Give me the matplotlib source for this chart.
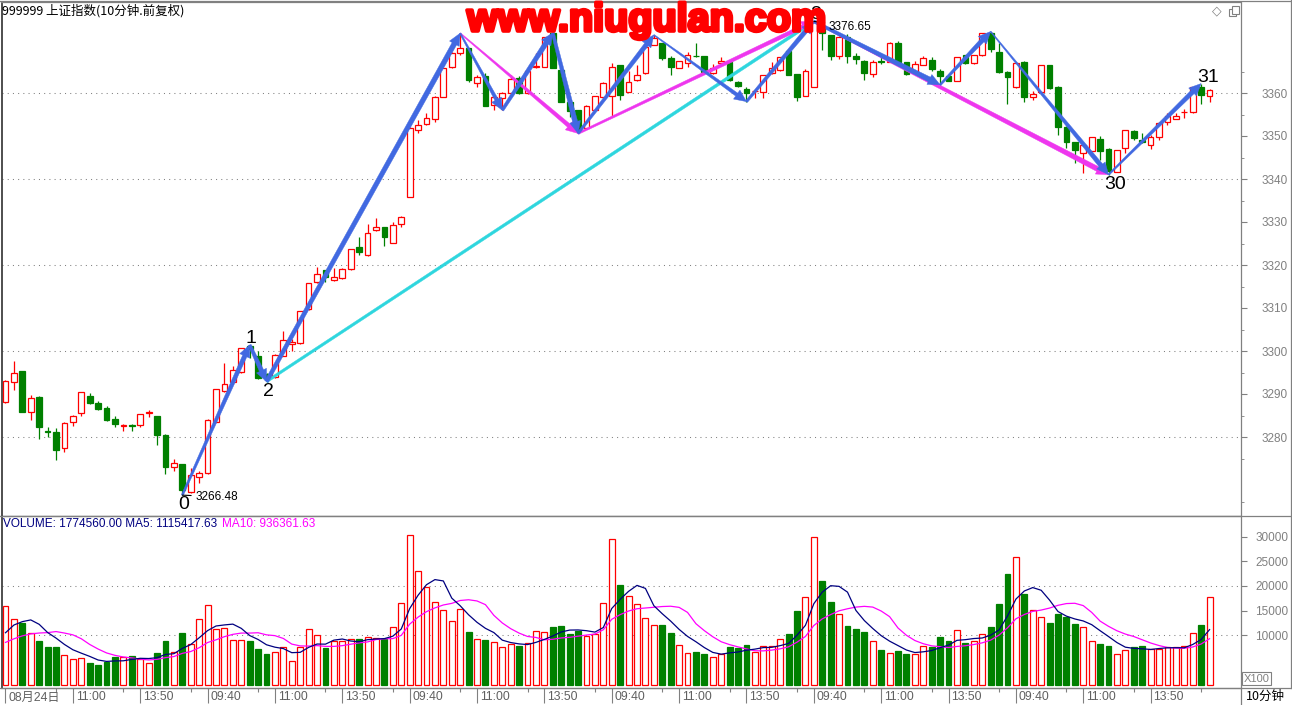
import numpy as np
import pandas as pd
import matplotlib
matplotlib.use("Agg")
import matplotlib.pyplot as plt
import matplotlib.transforms as mtransforms
import matplotlib.patheffects as pe
from matplotlib.patches import Polygon, Rectangle
from matplotlib.lines import Line2D

# ---------------- data (10-minute bars, 6 sessions x 24 bars) ----------------
open_ = [3288.1, 3292.7, 3295.3, 3285.7, 3289.4, 3281.3, 3281.1, 3277.4, 3283.4, 3285.5,
         3289.5, 3288.0, 3286.8, 3284.2, 3282.6, 3282.7, 3282.8, 3285.5, 3284.9, 3280.5,
         3273.1, 3273.7, 3267.3, 3270.8, 3271.6, 3283.6, 3290.8, 3292.9, 3295.2, 3301.2,
         3298.8, 3294.6, 3293.9, 3298.9, 3301.6, 3301.8, 3309.8, 3316.1, 3318.8, 3316.4,
         3316.9, 3319.0, 3324.2, 3322.3, 3328.1, 3328.8, 3325.2, 3329.5, 3335.9, 3351.4,
         3352.8, 3354.0, 3359.1, 3366.0, 3369.4, 3370.4, 3362.3, 3364.0, 3357.2, 3358.9,
         3360.1, 3363.4, 3359.9, 3366.0, 3366.1, 3373.9, 3365.3, 3358.0, 3356.0, 3351.8,
         3356.0, 3359.0, 3359.2, 3366.5, 3360.3, 3363.0, 3364.6, 3371.2, 3371.6, 3368.2,
         3365.8, 3366.9, 3368.7, 3368.5, 3364.6, 3366.9, 3367.1, 3362.6, 3360.9, 3360.4,
         3360.3, 3364.6, 3365.3, 3369.8, 3364.4, 3359.3, 3361.5, 3374.8, 3373.5, 3368.6,
         3373.1, 3368.6, 3367.5, 3364.4, 3367.4, 3367.3, 3371.7, 3367.1, 3364.6, 3366.5,
         3367.7, 3365.2, 3364.0, 3362.9, 3368.8, 3366.9, 3368.8, 3373.9, 3369.6, 3365.0,
         3361.3, 3367.3, 3359.1, 3360.3, 3366.5, 3361.5, 3352.2, 3348.5, 3346.1, 3346.6,
         3349.3, 3347.0, 3341.7, 3347.1, 3351.2, 3349.1, 3347.9, 3349.7, 3353.3, 3354.0,
         3355.5, 3355.5, 3361.5, 3359.3]
high = [3293.2, 3297.7, 3295.4, 3289.8, 3289.6, 3282.3, 3282.1, 3283.4, 3285.2, 3290.5,
        3290.3, 3288.4, 3287.2, 3285.0, 3283.0, 3283.0, 3285.3, 3286.3, 3285.0, 3280.6,
        3274.9, 3273.8, 3272.7, 3272.0, 3284.2, 3291.2, 3297.2, 3296.4, 3300.7, 3301.4,
        3300.0, 3294.8, 3299.2, 3304.7, 3302.8, 3309.4, 3315.8, 3319.6, 3318.9, 3319.4,
        3319.4, 3323.8, 3326.6, 3329.5, 3330.9, 3328.9, 3330.1, 3331.3, 3352.0, 3353.7,
        3355.4, 3359.4, 3365.8, 3369.5, 3373.9, 3370.5, 3364.2, 3364.7, 3359.1, 3360.3,
        3364.2, 3364.0, 3365.3, 3369.3, 3373.1, 3374.0, 3365.8, 3358.1, 3356.1, 3357.1,
        3359.3, 3362.5, 3366.9, 3366.6, 3365.2, 3366.5, 3371.6, 3373.5, 3371.7, 3368.5,
        3367.5, 3369.6, 3371.6, 3368.6, 3366.7, 3368.3, 3367.2, 3362.7, 3361.3, 3360.7,
        3364.3, 3367.3, 3368.4, 3369.9, 3364.5, 3365.5, 3376.65, 3375.1, 3373.6, 3373.2,
        3373.7, 3369.2, 3367.6, 3367.7, 3368.4, 3371.8, 3372.2, 3367.2, 3367.5, 3368.6,
        3368.3, 3365.5, 3364.4, 3368.4, 3368.9, 3368.9, 3374.0, 3374.3, 3371.6, 3365.1,
        3367.0, 3367.4, 3360.5, 3366.6, 3366.6, 3361.6, 3352.3, 3348.7, 3348.7, 3349.8,
        3350.0, 3347.1, 3346.8, 3351.5, 3351.3, 3350.6, 3350.2, 3353.3, 3355.3, 3355.4,
        3356.2, 3361.5, 3362.2, 3360.9]
low = [3288.0, 3290.9, 3285.8, 3284.0, 3279.5, 3280.1, 3274.7, 3276.4, 3282.6, 3285.0,
       3287.7, 3286.3, 3283.7, 3282.4, 3281.3, 3281.3, 3282.4, 3284.7, 3278.1, 3271.4,
       3272.2, 3266.48, 3267.0, 3269.2, 3271.5, 3283.5, 3290.5, 3292.7, 3294.9, 3298.4,
       3293.6, 3292.9, 3293.8, 3298.8, 3300.0, 3301.6, 3309.6, 3315.7, 3316.1, 3316.3,
       3316.7, 3318.9, 3322.3, 3322.1, 3327.8, 3324.4, 3325.1, 3328.8, 3335.8, 3350.8,
       3352.6, 3353.3, 3359.0, 3365.9, 3368.8, 3362.6, 3361.3, 3356.9, 3356.0, 3356.0,
       3360.0, 3359.8, 3359.8, 3365.8, 3366.0, 3365.7, 3357.9, 3354.5, 3350.6, 3351.7,
       3355.9, 3358.9, 3354.5, 3358.4, 3360.2, 3362.9, 3364.5, 3371.1, 3367.7, 3364.2,
       3365.7, 3366.0, 3368.3, 3364.9, 3364.5, 3366.5, 3362.9, 3361.5, 3358.0, 3358.8,
       3358.8, 3364.5, 3365.2, 3364.1, 3358.2, 3359.2, 3361.4, 3370.0, 3367.7, 3367.8,
       3366.9, 3366.7, 3363.0, 3363.8, 3366.7, 3367.2, 3367.2, 3364.3, 3364.5, 3366.4,
       3365.2, 3361.9, 3362.8, 3362.8, 3366.8, 3366.8, 3368.7, 3369.6, 3364.6, 3357.4,
       3361.2, 3358.0, 3358.4, 3360.2, 3361.0, 3350.2, 3347.1, 3343.8, 3341.3, 3346.5,
       3344.4, 3341.0, 3341.6, 3346.0, 3349.1, 3348.4, 3346.9, 3349.1, 3352.6, 3353.9,
       3354.3, 3355.4, 3357.4, 3358.0]
close = [3293.0, 3295.0, 3285.9, 3289.0, 3282.4, 3281.2, 3277.0, 3283.2, 3284.9, 3290.4,
         3288.0, 3286.6, 3284.0, 3283.0, 3282.8, 3282.5, 3285.3, 3285.8, 3280.5, 3273.1,
         3274.0, 3267.7, 3271.2, 3271.7, 3284.0, 3291.1, 3292.3, 3295.6, 3300.6, 3300.5,
         3293.8, 3293.7, 3299.1, 3302.5, 3302.0, 3309.3, 3315.7, 3317.8, 3317.1, 3317.1,
         3319.1, 3323.7, 3323.0, 3327.4, 3328.8, 3326.4, 3329.2, 3331.2, 3351.8, 3352.6,
         3354.1, 3359.0, 3365.7, 3369.3, 3370.4, 3363.0, 3363.7, 3357.0, 3359.0, 3359.9,
         3363.2, 3359.9, 3365.2, 3366.2, 3373.0, 3365.8, 3358.0, 3355.8, 3351.4, 3357.0,
         3359.2, 3362.4, 3366.1, 3359.5, 3362.6, 3364.2, 3370.8, 3372.7, 3368.1, 3366.1,
         3367.4, 3368.8, 3368.5, 3365.0, 3365.9, 3367.4, 3363.0, 3361.6, 3360.1, 3360.5,
         3364.2, 3365.8, 3368.3, 3364.2, 3359.1, 3365.2, 3376.6, 3373.9, 3368.6, 3373.1,
         3368.5, 3367.8, 3364.7, 3367.2, 3367.3, 3371.6, 3367.3, 3364.4, 3366.7, 3368.1,
         3365.5, 3364.0, 3362.9, 3368.3, 3366.9, 3368.8, 3373.9, 3370.2, 3365.0, 3363.7,
         3366.9, 3359.1, 3359.8, 3366.5, 3361.1, 3352.2, 3348.5, 3346.7, 3347.8, 3349.7,
         3346.6, 3341.9, 3346.7, 3351.4, 3349.6, 3348.5, 3349.7, 3353.0, 3354.7, 3354.7,
         3355.6, 3361.3, 3359.5, 3360.7]
# volume in units of 100 (axis shows X100)
volume = [15990, 13330, 12440, 10540, 8840, 7680, 7680, 5980, 5170, 5370,
          4420, 4010, 4560, 5640, 5510, 5850, 5100, 4350, 6460, 8840,
          6600, 10470, 8230, 13330, 16120, 11290, 11560, 9040, 9040, 8840,
          7280, 6190, 6600, 7620, 4690, 7620, 11220, 10000, 7480, 8770,
          8770, 9180, 9250, 9590, 9450, 9180, 11630, 16520, 30260, 23050,
          19860, 16800, 15160, 12850, 15300, 10680, 9180, 9040, 8570, 7620,
          8230, 7820, 8360, 10810, 10610, 11700, 11900, 10270, 10950, 9860,
          10270, 16520, 29580, 20260, 17950, 16320, 13460, 12040, 12100, 10470,
          7960, 6320, 6600, 6190, 5580, 6190, 7620, 7480, 8020, 6660,
          7750, 7890, 9180, 10270, 14960, 17750, 29850, 20950, 16800, 14280,
          11900, 11290, 10680, 8770, 7000, 6320, 6800, 6190, 6190, 7750,
          7620, 9660, 8840, 11020, 8430, 8770, 10200, 11700, 16390, 22510,
          25910, 18430, 15160, 13670, 12510, 14350, 13740, 12310, 11630, 8770,
          8230, 7820, 6190, 6940, 7550, 7820, 7140, 7140, 7680, 7650,
          7750, 10450, 12175, 17746]
# volumes of the 9 bars before the window (estimated from the MA lines at the left edge)
prior_volume = [6000, 6500, 6600, 7000, 6900, 5500, 9000, 8800, 13300]

session_labels = ["08月24日", "09:40", "09:40", "09:40", "09:40", "09:40"]
intraday_labels = ["11:00", "13:50"]
bars_per_day = 24
intraday_pos = [8, 16]
minor_pos = [6, 14, 22]

# zig-zag pivots: (bar index, 'H' or 'L')
blue_legs = [(21, 'L', 29, 'H'), (29, 'H', 31, 'L'), (31, 'L', 54, 'H'), (54, 'H', 59, 'L'),
             (59, 'L', 65, 'H'), (65, 'H', 68, 'L'), (68, 'L', 77, 'H'), (77, 'H', 88, 'L'),
             (88, 'L', 96, 'H'), (96, 'H', 111, 'L'), (111, 'L', 117, 'H'), (117, 'H', 131, 'L'),
             (131, 'L', 142, 'H')]
blue_widths = [(2, 4.5), (3, 4.5), (4, 5), (1.5, 3.5), (3, 5), (3, 5), (2.5, 4.5), (1, 3.5),
               (2.5, 4.5), (3, 5), (2, 4.5), (1, 4.5), (1.5, 4.5)]
pink_legs = [(54, 'H', 68, 'L'), (68, 'L', 96, 'H'), (96, 'H', 131, 'L')]
pink_widths = [(1, 4), (2, 4), (2, 5)]
cyan_leg = (31, 'L', 96, 'H')
pivot_labels = [(21, 'L', "0"), (29, 'H', "1"), (31, 'L', "2"), (96, 'H', "3"),
                (131, 'L', "30"), (142, 'H', "31")]

# ---------------- figure ----------------
W, H = 1292, 705
fig = plt.figure(figsize=(W / 100, H / 100), dpi=100)
fig.patch.set_facecolor("white")


def fx(px):
    return px / W


def fy(py):
    return 1 - py / H


GRAY = "#808080"
RED = "#FF0000"
GREEN = "#008000"
BLUE = "#4169E1"
PINK = "#EE36EE"
CYAN = "#2ED6DE"
LAT = "Liberation Sans"
CJK = ["Noto Sans CJK SC", "DejaVu Sans"]

ax = fig.add_axes([fx(1.5), fy(516), (1240.5 - 1.5) / W, (516 - 2) / H])
axv = fig.add_axes([fx(1.5), fy(688), (1240.5 - 1.5) / W, (688 - 516) / H])

o = np.array(open_)
h = np.array(high)
l = np.array(low)
c = np.array(close)
v = np.array(volume, dtype=float)
n = len(o)
idx = np.arange(n)
up = c >= o

x0 = (1.5 - 5.5) / 8.42
x1 = (1240.5 - 5.5) / 8.42
ax.set_xlim(x0, x1)
ax.set_ylim(3360 - (516 - 93) / 4.3, 3360 + (93 - 2) / 4.3)
axv.set_xlim(x0, x1)
axv.set_ylim(-(688 - 684.6) / 49.3 * 10000, (684.6 - 516) / 49.3 * 10000)

for a in (ax, axv):
    a.set_facecolor("white")
    for s in a.spines.values():
        s.set_color(GRAY)
        s.set_linewidth(0.9)
    a.spines["left"].set_color("#404040")
    a.spines["left"].set_linewidth(1.3)

# grid
for g in range(3280, 3361, 20):
    ax.axhline(g, color=GRAY, lw=0.75, ls=(0, (1, 4)), zorder=1)
for g in (10000, 20000):
    axv.axhline(g, color=GRAY, lw=0.75, ls=(0, (1, 4)), zorder=1)

# candles
bw = 0.68
lo_b = np.minimum(o, c)
hi_b = np.maximum(o, c)
hgt = np.maximum(hi_b - lo_b, 0.03)
col = np.where(up, RED, GREEN)
ax.vlines(idx, hi_b, h, colors=col, lw=0.9, zorder=2)
ax.vlines(idx, l, lo_b, colors=col, lw=0.9, zorder=2)
ax.bar(idx[up], hgt[up], bottom=lo_b[up], width=bw, facecolor="white",
       edgecolor=RED, lw=0.9, zorder=3)
ax.bar(idx[~up], hgt[~up], bottom=lo_b[~up], width=bw, facecolor=GREEN,
       edgecolor=GREEN, lw=0.9, zorder=3)

# volume
axv.bar(idx[up], v[up], width=0.7, facecolor="white", edgecolor=RED, lw=0.9, zorder=3)
axv.bar(idx[~up], v[~up], width=0.7, facecolor=GREEN, edgecolor=GREEN, lw=0.9, zorder=3)
full = pd.Series(list(prior_volume) + list(volume), dtype=float)
ma5 = full.rolling(5).mean().to_numpy()[len(prior_volume):]
ma10 = full.rolling(10).mean().to_numpy()[len(prior_volume):]
axv.plot(idx, ma10, color="#FF00FF", lw=0.9, zorder=4)
axv.plot(idx, ma5, color="#000080", lw=0.9, zorder=5)

# right axes ticks
ax.yaxis.tick_right()
ax.set_yticks(range(3280, 3361, 10))
ax.set_yticks([t + 5 for t in range(3260, 3361, 10)], minor=True)
ax.tick_params(axis="y", which="major", length=4.3, color=GRAY, labelcolor=GRAY,
               labelsize=8.5, pad=30.0)
ax.tick_params(axis="y", which="minor", length=2.2, color=GRAY)
for t in ax.get_yticklabels():
    t.set_horizontalalignment("right")
    t.set_fontfamily(LAT)
ax.set_xticks([])

axv.yaxis.tick_right()
axv.set_yticks([10000, 15000, 20000, 25000, 30000])
axv.tick_params(axis="y", which="major", length=4.3, color=GRAY, labelcolor=GRAY,
                labelsize=8.5, pad=30.0)
for t in axv.get_yticklabels():
    t.set_horizontalalignment("right")
    t.set_fontfamily(LAT)

# x axis strip
major_x, major_lab = [], []
for d in range(len(session_labels)):
    major_x.append(d * bars_per_day)
    major_lab.append(session_labels[d])
    for p, lab in zip(intraday_pos, intraday_labels):
        major_x.append(d * bars_per_day + p)
        major_lab.append(lab)
minor_x = [d * bars_per_day + p for d in range(len(session_labels)) for p in minor_pos]
axv.set_xticks(major_x)
axv.set_xticklabels([])
axv.set_xticks(minor_x, minor=True)
axv.tick_params(axis="x", which="major", length=11, color=GRAY, width=0.8)
axv.tick_params(axis="x", which="minor", length=3, color=GRAY, width=0.8)
lab_tr = mtransforms.blended_transform_factory(axv.transData, axv.transAxes) + \
    mtransforms.ScaledTranslation(3 / 100, -9.5 / 100, fig.dpi_scale_trans)
for xm, lab in zip(major_x, major_lab):
    axv.text(xm, 0, lab, transform=lab_tr, ha="left", va="center", fontsize=8.8,
             color="#606060", family=[LAT, "Noto Sans CJK SC"], clip_on=False)


# tapered arrows
def price_of(i, kind):
    return h[i] if kind == "H" else l[i]


def taper(axis, p0, p1, color, w0, w1, hw=11, hl=12, z=6):
    T = axis.transData
    a = np.array(T.transform(p0))
    b = np.array(T.transform(p1))
    d = b - a
    L = np.hypot(*d)
    u = d / L
    nn = np.array([-u[1], u[0]])
    if hl > 0:
        base = b - u * hl
        pts = [a + nn * w0 / 2, base + nn * w1 / 2, base + nn * hw / 2, b,
               base - nn * hw / 2, base - nn * w1 / 2, a - nn * w0 / 2]
    else:
        pts = [a + nn * w0 / 2, b + nn * w1 / 2, b - nn * w1 / 2, a - nn * w0 / 2]
    dp = T.inverted().transform(np.array(pts))
    axis.add_patch(Polygon(dp, closed=True, facecolor=color, edgecolor=color, lw=0.3,
                           zorder=z, clip_on=False))


i0, k0, i1, k1 = cyan_leg
taper(ax, (i0, price_of(i0, k0)), (i1, price_of(i1, k1)), CYAN, 2.6, 3.0, hl=0, z=5)
for (i0, k0, i1, k1), (w0, w1) in zip(pink_legs, pink_widths):
    taper(ax, (i0, price_of(i0, k0)), (i1, price_of(i1, k1)), PINK, w0, w1, z=6)
for (i0, k0, i1, k1), (w0, w1) in zip(blue_legs, blue_widths):
    taper(ax, (i0, price_of(i0, k0)), (i1, price_of(i1, k1)), BLUE, w0, w1, z=7)

# pivot labels
for i, k, lab in pivot_labels:
    if k == "H":
        ax.annotate(lab, xy=(i, h[i]), xytext=(-4, 2), textcoords="offset pixels",
                    ha="left", va="baseline", fontsize=14, family=LAT, color="black",
                    zorder=8, annotation_clip=False)
    else:
        ax.annotate(lab, xy=(i, l[i]), xytext=(-4, -1), textcoords="offset pixels",
                    ha="left", va="top", fontsize=14, family=LAT, color="black",
                    zorder=8, annotation_clip=False)

# extreme value labels
i_lo = int(np.argmin(l))
i_hi = int(np.argmax(h))
ax.annotate(f"{l[i_lo]:.2f}", xy=(i_lo, l[i_lo]), xytext=(13, -2), textcoords="offset pixels",
            ha="left", va="center", fontsize=8.5, family=LAT, color="black", zorder=8,
            arrowprops=dict(arrowstyle="-", color="black", lw=0.8, shrinkA=1, shrinkB=0,
                            relpos=(0, 0.62)))
ax.annotate(f"{h[i_hi]:.2f}", xy=(i_hi, h[i_hi]), xytext=(15, 0), textcoords="offset pixels",
            ha="left", va="top", fontsize=8.5, family=LAT, color="black", zorder=8,
            arrowprops=dict(arrowstyle="-", color="black", lw=0.8, shrinkA=1, shrinkB=0,
                            relpos=(0, 0.85)))

# ---------------- texts / chrome ----------------
fig.text(fx(2), fy(11), "999999 上证指数(10分钟.前复权)", family=CJK, fontsize=9,
         va="center", ha="left", color="black")
fig.text(fx(647), fy(20), "www.niugulan.com", family=LAT, fontweight="bold",
         fontsize=28.5, color=RED, ha="center", va="center", zorder=20,
         path_effects=[pe.withStroke(linewidth=2.6, foreground=RED)])

t1 = fig.text(fx(3), fy(524), "VOLUME: 1774560.00 MA5: 1115417.63", family=LAT,
              fontsize=8.5, color="#000080", va="center", ha="left")
fig.canvas.draw()
bb = t1.get_window_extent(fig.canvas.get_renderer())
fig.text((bb.x1 + 5) / W, fy(524), "MA10: 936361.63", family=LAT, fontsize=8.5,
         color="#FF00FF", va="center", ha="left")

# right panel lines
for xs, ys in [((1290.5, 1290.5), (0, 688)), ((1240.5, 1240.5), (688, 705)),
               ((0, 1292), (688, 688)), ((0, 1292), (516, 516)), ((0, 1292), (1, 1))]:
    fig.add_artist(Line2D([fx(xs[0]), fx(xs[1])], [fy(ys[0]), fy(ys[1])], color=GRAY, lw=0.9))

fig.add_artist(Rectangle((fx(1242), fy(685)), 29 / W, 13 / H, facecolor="white",
                         edgecolor=GRAY, lw=0.8))
fig.text(fx(1256.5), fy(678.5), "X100", family=LAT, fontsize=8, color=GRAY,
         ha="center", va="center")
fig.text(fx(1265), fy(696.5), "10分钟", family=CJK, fontsize=9, color="black",
         ha="center", va="center")

# top-right icons
fig.text(fx(1217), fy(11), "◇", family="DejaVu Sans", fontsize=9, color=GRAY,
         ha="center", va="center")
fig.add_artist(Rectangle((fx(1229), fy(16)), 7 / W, 7 / H, facecolor="white",
                         edgecolor=GRAY, lw=0.8))
fig.add_artist(Rectangle((fx(1231.5), fy(13.5)), 7 / W, 7 / H, facecolor="white",
                         edgecolor=GRAY, lw=0.8))

fig.savefig("out.png", dpi=100, facecolor="white")
